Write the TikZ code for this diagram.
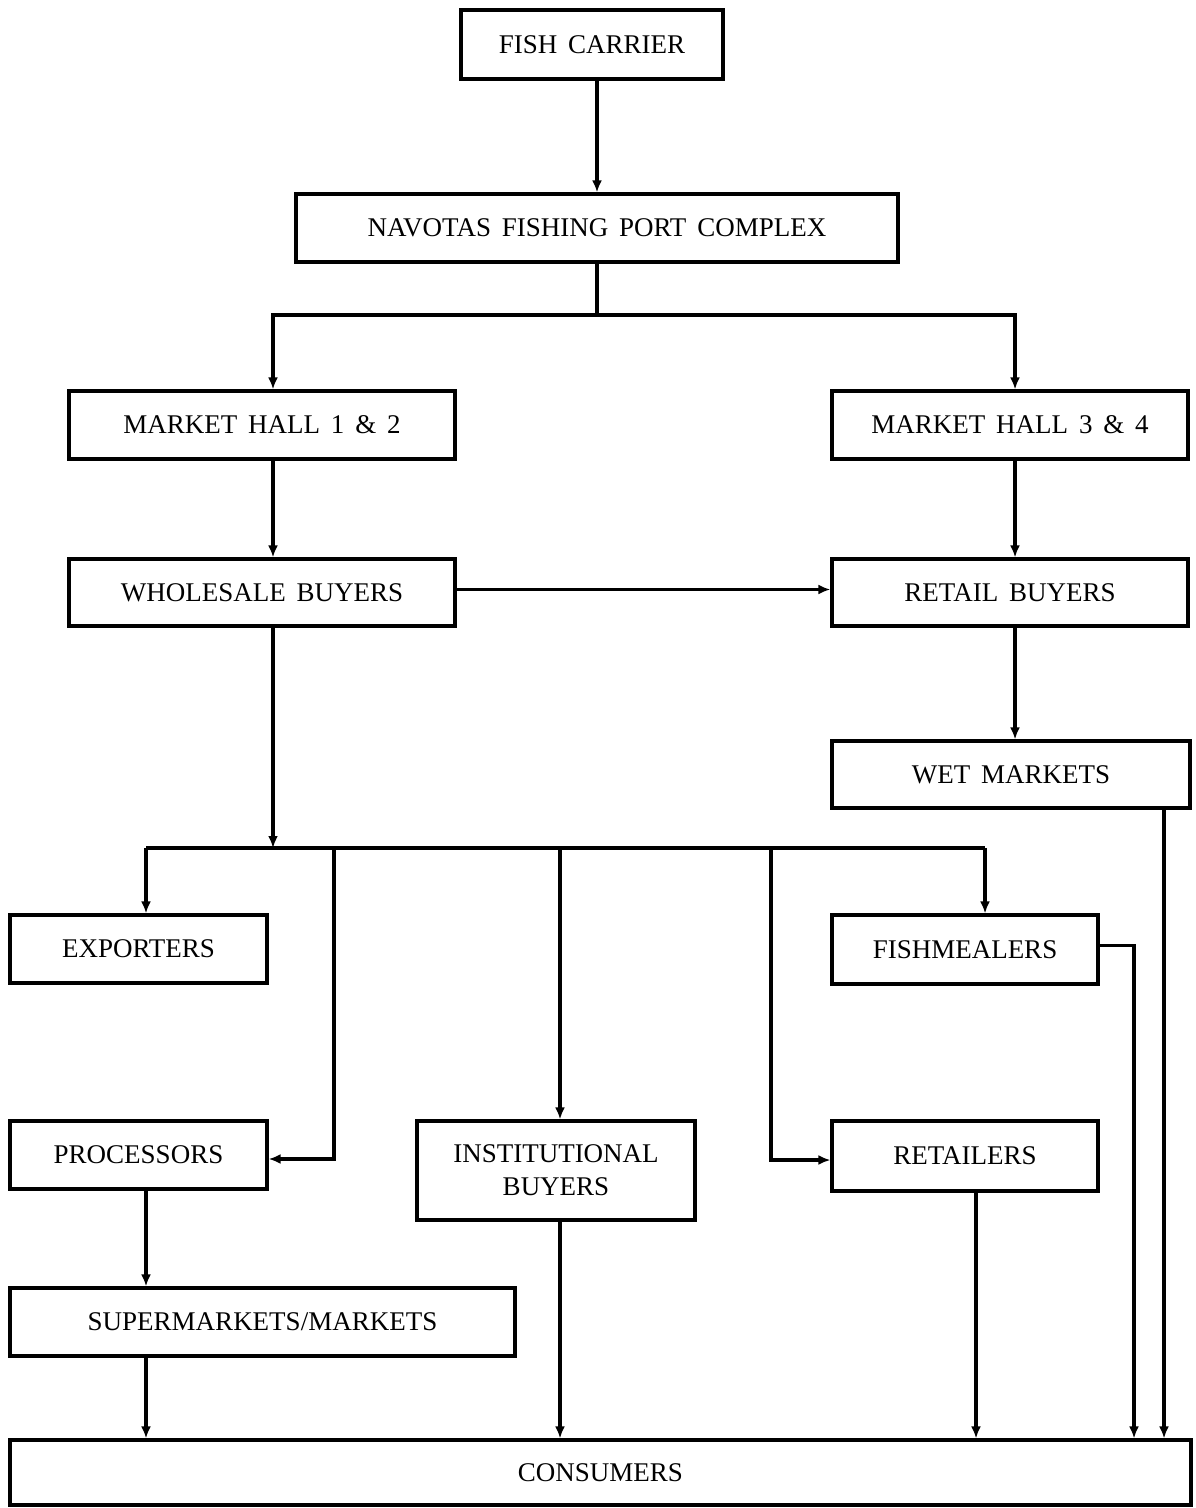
\documentclass[tikz,border=0pt]{standalone}
\usepackage{fontspec}
\setmainfont{Liberation Serif}[WordSpace=1.6]
\usetikzlibrary{arrows.meta,calc}
\begin{document}
\begin{tikzpicture}[x=0.5pt,y=-0.5pt,
  box/.style={draw,line width=1.6pt,inner sep=0pt,align=center,font=\fontsize{13.5}{16.5}\selectfont},
  line/.style={line width=1.6pt},
  arr/.style={line width=1.6pt,-{Latex[length=6pt,width=5pt]}}]
\useasboundingbox (0,0) rectangle (1195,1508);
% boxes
\node[box,minimum width=131pt,minimum height=34.5pt] (fc) at (592,44.5) {FISH CARRIER};
\node[box,minimum width=301pt,minimum height=34pt] (npc) at (597,228) {NAVOTAS FISHING PORT COMPLEX};
\node[box,minimum width=193pt,minimum height=34pt] (mh12) at (262,425) {MARKET HALL 1 \& 2};
\node[box,minimum width=178pt,minimum height=34pt] (mh34) at (1010,425) {MARKET HALL 3 \& 4};
\node[box,minimum width=193pt,minimum height=33.5pt] (ws) at (262,592.5) {WHOLESALE BUYERS};
\node[box,minimum width=178pt,minimum height=33.5pt] (rb) at (1010,592.5) {RETAIL BUYERS};
\node[box,minimum width=179pt,minimum height=33.5pt] (wet) at (1011,774.5) {WET MARKETS};
\node[box,minimum width=128.5pt,minimum height=34pt] (exp) at (138.5,949) {EXPORTERS};
\node[box,minimum width=133pt,minimum height=34.5pt] (fm) at (965,949.5) {FISHMEALERS};
\node[box,minimum width=128.5pt,minimum height=34pt] (proc) at (138.5,1155) {PROCESSORS};
\node[box,minimum width=139pt,minimum height=49.5pt] (inst) at (556,1170.5) {INSTITUTIONAL\\BUYERS};
\node[box,minimum width=133pt,minimum height=35pt] (ret) at (965,1156) {RETAILERS};
\node[box,minimum width=252.5pt,minimum height=34pt] (sup) at (262.5,1322) {SUPERMARKETS/MARKETS};
\node[box,minimum width=590.5pt,minimum height=32.5pt] (cons) at (600.5,1472.5) {CONSUMERS};
% routing coordinates
\coordinate (s1) at (597,315);
\coordinate (xL) at (273,0);
\coordinate (xR) at (1015,0);
\coordinate (s2) at (273,848);
\coordinate (s2w) at (146,848);
\coordinate (s2e) at (985,848);
\coordinate (bP) at (334,848);
\coordinate (bI) at (560,848);
\coordinate (bR) at (771,848);
\coordinate (xRet) at (976,0);
\coordinate (xFm) at (1134,0);
\coordinate (xWet) at (1164,0);
% connectors
\draw[arr] (npc.north |- fc.south) -- (npc.north);
\draw[line] (npc.south) -- (s1);
\draw[arr] (s1) -| (mh12.north -| xL);
\draw[arr] (s1) -| (mh34.north -| xR);
\draw[arr] (mh12.south -| xL) -- (ws.north -| xL);
\draw[arr] (mh34.south -| xR) -- (rb.north -| xR);
\draw[arr] ([yshift=1.5pt]ws.east) -- ([yshift=1.5pt]rb.west);
\draw[arr] (rb.south -| xR) -- (wet.north -| xR);
\draw[arr] (ws.south -| xL) -- (s2);
\draw[line] (s2w) -- (s2e);
\draw[arr] (s2w) -- (exp.north -| s2w);
\draw[arr] (bP) |- ([yshift=-2pt]proc.east);
\draw[arr] (bI) -- (inst.north -| bI);
\draw[arr] (bR) |- ([yshift=-2pt]ret.west);
\draw[arr] (s2e) -- (fm.north -| s2e);
\draw[arr] (proc.south -| s2w) -- (sup.north -| s2w);
\draw[arr] (sup.south -| s2w) -- (cons.north -| s2w);
\draw[arr] (inst.south -| bI) -- (cons.north -| bI);
\draw[arr] (ret.south -| xRet) -- (cons.north -| xRet);
\draw[arr] ([yshift=2pt]fm.east) -| (cons.north -| xFm);
\draw[arr] (wet.south -| xWet) -- (cons.north -| xWet);
\end{tikzpicture}
\end{document}
